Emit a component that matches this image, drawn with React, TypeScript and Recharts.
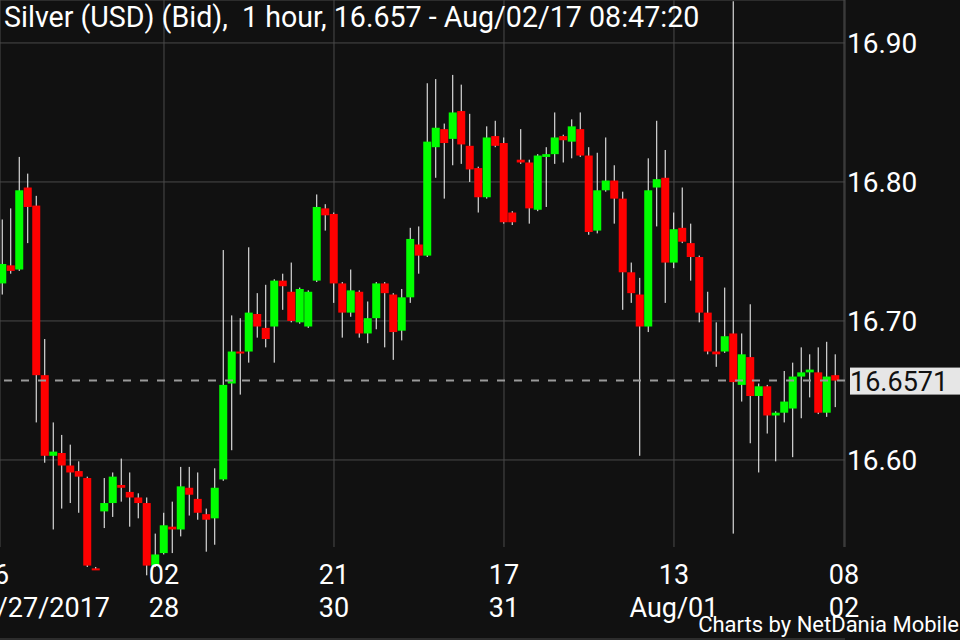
import React from "react";
import { ComposedChart, Bar, XAxis, YAxis, CartesianGrid, ReferenceLine } from "recharts";

// hourly candles, oldest first (Silver USD bid, 27 Jul - 02 Aug 2017)
const opens = [
  16.727, 16.740, 16.737, 16.796, 16.783, 16.661, 16.603, 16.605, 16.596, 16.592,
  16.587, 16.522, 16.563, 16.569, 16.582, 16.577, 16.573, 16.569, 16.524, 16.533,
  16.552, 16.550, 16.580, 16.572, 16.561, 16.558, 16.586, 16.655, 16.678, 16.678,
  16.705, 16.695, 16.696, 16.729, 16.721, 16.699, 16.696, 16.729, 16.781, 16.777,
  16.727, 16.706, 16.721, 16.691, 16.702, 16.727, 16.719, 16.693, 16.717, 16.755,
  16.747, 16.825, 16.838, 16.831, 16.851, 16.826, 16.810, 16.789, 16.833, 16.828,
  16.778, 16.816, 16.814, 16.780, 16.818, 16.820, 16.833, 16.829, 16.838, 16.819,
  16.765, 16.794, 16.801, 16.788, 16.735, 16.719, 16.696, 16.796, 16.803, 16.742,
  16.767, 16.756, 16.746, 16.706, 16.678, 16.678, 16.691, 16.654, 16.674, 16.646,
  16.653, 16.632, 16.634, 16.637, 16.660, 16.663, 16.663, 16.634, 16.661,
];
const highs = [
  16.773, 16.781, 16.818, 16.806, 16.790, 16.687, 16.627, 16.618, 16.611, 16.599,
  16.588, 16.523, 16.587, 16.591, 16.601, 16.591, 16.576, 16.573, 16.547, 16.562,
  16.570, 16.595, 16.595, 16.591, 16.565, 16.594, 16.751, 16.704, 16.702, 16.753,
  16.720, 16.726, 16.730, 16.734, 16.742, 16.724, 16.722, 16.791, 16.784, 16.778,
  16.728, 16.737, 16.722, 16.714, 16.728, 16.728, 16.720, 16.723, 16.767, 16.768,
  16.871, 16.874, 16.842, 16.877, 16.870, 16.849, 16.811, 16.840, 16.844, 16.832,
  16.779, 16.838, 16.816, 16.820, 16.825, 16.850, 16.834, 16.845, 16.850, 16.825,
  16.821, 16.832, 16.812, 16.793, 16.742, 16.731, 16.817, 16.844, 16.823, 16.778,
  16.796, 16.770, 16.747, 16.721, 16.699, 16.724, 16.930, 16.691, 16.712, 16.655,
  16.654, 16.635, 16.664, 16.670, 16.681, 16.676, 16.681, 16.685, 16.676,
];
const lows = [
  16.719, 16.734, 16.736, 16.756, 16.627, 16.598, 16.550, 16.565, 16.569, 16.562,
  16.523, 16.521, 16.551, 16.559, 16.570, 16.552, 16.558, 16.517, 16.523, 16.532,
  16.533, 16.545, 16.560, 16.557, 16.534, 16.539, 16.585, 16.607, 16.647, 16.670,
  16.688, 16.681, 16.670, 16.708, 16.699, 16.698, 16.695, 16.728, 16.765, 16.713,
  16.688, 16.703, 16.688, 16.684, 16.694, 16.681, 16.672, 16.686, 16.713, 16.734,
  16.746, 16.803, 16.788, 16.812, 16.813, 16.800, 16.778, 16.788, 16.825, 16.770,
  16.769, 16.813, 16.770, 16.779, 16.782, 16.813, 16.814, 16.817, 16.818, 16.762,
  16.763, 16.793, 16.770, 16.708, 16.713, 16.603, 16.692, 16.768, 16.713, 16.738,
  16.756, 16.729, 16.699, 16.676, 16.667, 16.677, 16.547, 16.642, 16.612, 16.591,
  16.619, 16.599, 16.627, 16.602, 16.630, 16.645, 16.633, 16.631, 16.638,
];
const closes = [
  16.741, 16.736, 16.794, 16.782, 16.661, 16.603, 16.606, 16.596, 16.591, 16.588,
  16.524, 16.521, 16.569, 16.588, 16.580, 16.573, 16.569, 16.524, 16.532, 16.553,
  16.550, 16.581, 16.575, 16.562, 16.557, 16.580, 16.654, 16.678, 16.677, 16.706,
  16.696, 16.687, 16.729, 16.725, 16.700, 16.723, 16.721, 16.782, 16.776, 16.727,
  16.706, 16.722, 16.691, 16.702, 16.727, 16.720, 16.692, 16.717, 16.759, 16.747,
  16.829, 16.839, 16.828, 16.850, 16.827, 16.809, 16.789, 16.832, 16.826, 16.771,
  16.771, 16.814, 16.781, 16.819, 16.820, 16.832, 16.830, 16.840, 16.819, 16.764,
  16.794, 16.801, 16.788, 16.735, 16.720, 16.696, 16.794, 16.802, 16.742, 16.766,
  16.757, 16.746, 16.706, 16.678, 16.676, 16.689, 16.656, 16.676, 16.646, 16.653,
  16.632, 16.634, 16.642, 16.660, 16.663, 16.665, 16.634, 16.660, 16.6571,
];

const priceTicks = [16.6, 16.7, 16.8, 16.9];
const timeTicks = [-1, 19, 39, 59, 79, 99];
const hourLabels = ["06", "02", "21", "17", "13", "08"];
const dayLabels = ["07/27/2017", "28", "30", "31", "Aug/01", "02"];
const lastPrice = 16.6571;
const title = "Silver (USD) (Bid),  1 hour, 16.657 - Aug/02/17 08:47:20";

const UP = "#00ff00";
const DOWN = "#ff0000";
const BG = "#111111";
const GRID = "#4a4a4a";
const FONT = "Roboto, sans-serif";
const GRID_BOTTOM = 547;

const candles = opens.map((open, i) => ({
  i,
  open,
  high: highs[i],
  low: lows[i],
  close: closes[i],
}));

const Candle = (props: any) => {
  const { x, y, width, height, payload } = props;
  const { open, close, high, low } = payload;
  const top = Math.min(y, y + height);
  const h = Math.abs(height);
  const perUnit = h / (high - low);
  const cx = x + width / 2;
  const bodyTop = top + (high - Math.max(open, close)) * perUnit;
  const bodyH = Math.max(Math.abs(open - close) * perUnit, 2);
  return (
    <g>
      <line x1={cx} x2={cx} y1={top} y2={top + h} stroke="#ffffff" strokeWidth={1} />
      <rect x={x} y={bodyTop} width={width} height={bodyH} fill={close >= open ? UP : DOWN} />
    </g>
  );
};

const VerticalLine = (props: any) => (
  <line
    key={`v-${props.index}-${props.x1}`}
    x1={props.x1}
    x2={props.x2}
    y1={props.y1}
    y2={GRID_BOTTOM}
    stroke={GRID}
    strokeWidth={1}
  />
);

// both label rows sit inside the plot, above the axis line
const TimeTick = (props: any) => {
  const { x, y, payload } = props;
  const k = timeTicks.indexOf(payload.value);
  const first = k === 0;
  return (
    <g>
      <text x={x} y={y - 55} textAnchor="middle" fill="#fff" fontSize={27} fontFamily={FONT}>
        {hourLabels[k]}
      </text>
      <text
        x={first ? x + 116 : x}
        y={y - 22}
        textAnchor={first ? "end" : "middle"}
        fill="#fff"
        fontSize={27}
        fontFamily={FONT}
      >
        {dayLabels[k]}
      </text>
    </g>
  );
};

const PriceTag = (props: any) => {
  const { viewBox } = props;
  const right = viewBox.x + viewBox.width;
  const cy = viewBox.y;
  return (
    <g>
      <rect x={right + 5} y={cy - 13} width={115} height={27} fill="#e6e6e6" />
      <text x={right + 5} y={cy + 10} fontSize={27} fill="#111" fontFamily={FONT}>
        {lastPrice.toFixed(4)}
      </text>
    </g>
  );
};

export default function App() {
  return (
    <div style={{ position: "relative", width: 960, height: 640, background: BG }}>
      <style>{"body{margin:0;background:#111111}"}</style>
      <ComposedChart
        width={960}
        height={640}
        data={candles}
        margin={{ top: 0, right: 0, bottom: 0, left: 0 }}
      >
        <CartesianGrid stroke={GRID} vertical={VerticalLine} horizontal={true} />
        <XAxis
          dataKey="i"
          type="number"
          domain={[-0.294, 99.12]}
          ticks={timeTicks}
          interval={0}
          height={1}
          tickSize={0}
          tickMargin={0}
          axisLine={false}
          tickLine={false}
          tick={TimeTick}
        />
        <YAxis
          orientation="right"
          type="number"
          domain={[16.47119, 16.9309]}
          ticks={priceTicks}
          width={115}
          axisLine={false}
          tickLine={false}
          tickSize={0}
          tickMargin={2}
          tickFormatter={(v: number) => v.toFixed(2)}
          tick={{ fill: "#ffffff", fontSize: 28, fontFamily: FONT }}
        />
        <ReferenceLine
          y={lastPrice}
          stroke="#9a9a9a"
          strokeWidth={2}
          strokeDasharray="8 9"
          label={PriceTag}
        />
        <Bar
          dataKey={(d: any) => [d.low, d.high]}
          barSize={8}
          shape={Candle}
          isAnimationActive={false}
        />
      </ComposedChart>
      <svg
        width={960}
        height={640}
        style={{ position: "absolute", left: 0, top: 0, pointerEvents: "none" }}
      >
        <text x={4} y={27} fill="#fff" fontSize={28.6} fontFamily={FONT} style={{ whiteSpace: "pre" }}>
          {title}
        </text>
        <text x={959} y={632} textAnchor="end" fill="#fff" fontSize={22} fontFamily={FONT}>
          Charts by NetDania Mobile
        </text>
      </svg>
    </div>
  );
}
